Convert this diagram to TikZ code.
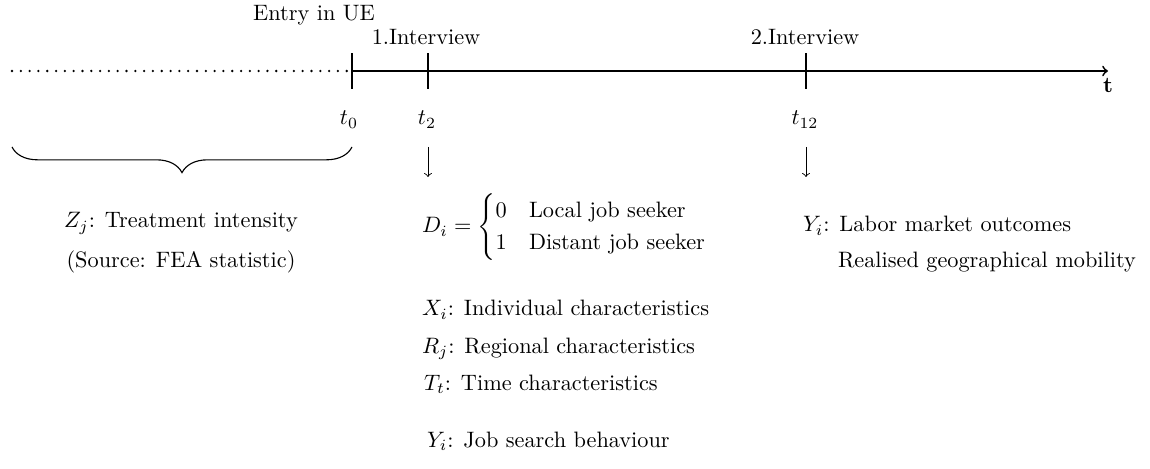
\documentclass[tikz,border=0pt]{standalone}
\usepackage{amsmath}
\usetikzlibrary{decorations.pathreplacing}
\tikzset{
  txt/.style={inner sep=0pt, outer sep=0pt},
  axis/.style={thick},
  tickmark/.style={thick},
  dotline/.style={dash pattern=on 0pt off 3.95pt, line width=1.15pt, line cap=round},
  downarr/.style={->, line width=0.4pt},
  bracedeco/.style={decorate, decoration={brace, mirror, amplitude=11.5pt}, line width=0.5pt}
}
\begin{document}
\begin{tikzpicture}[x=0.4484pt, y=-0.4484pt]
\useasboundingbox (0,0) rectangle (1150,469);
% axis coordinates
\coordinate (start) at (12,71);
\coordinate (t0) at (352,71);
\coordinate (t2) at (428,71);
\coordinate (t12) at (806,71);
\coordinate (tend) at (1108,71);
\draw[dotline] (start) -- (t0);
\draw[axis,->] (t0) -- (tend);
\node[txt, anchor=base] (tlab) at (1108,93) {\textbf{t}};
% ticks
\draw[tickmark] ([yshift=8pt]t0) -- ([yshift=-8pt]t0);
\draw[tickmark] ([yshift=8pt]t2) -- ([yshift=-8pt]t2);
\draw[tickmark] ([yshift=8pt]t12) -- ([yshift=-8pt]t12);
% top labels
\node[txt, anchor=base] (entry) at (314,21) {Entry in UE};
\node[txt, anchor=base] (int1) at (426,45) {1.Interview};
\node[txt, anchor=base] (int2) at (805,45) {2.Interview};
% time labels
\node[txt, anchor=base] (l0) at (349,125) {$t_0$};
\node[txt, anchor=base] (l2) at (427,125) {$t_2$};
\node[txt, anchor=base] (l12) at (805,125) {$t_{12}$};
% brace
\coordinate (b1) at (12,147);
\coordinate (b2) at (352,147);
\draw[bracedeco] (b1) -- (b2);
% down arrows
\coordinate (a1s) at (428,147);
\coordinate (a1e) at (428,177);
\coordinate (a2s) at (806,147);
\coordinate (a2e) at (806,177);
\draw[downarr] (a1s) -- (a1e);
\draw[downarr] (a2s) -- (a2e);
% left block
\node[txt, anchor=base] (zj) at (181,228) {$Z_j$: Treatment intensity};
\node[txt, anchor=base] (src) at (181,268) {(Source: FEA statistic)};
% middle block
\node[txt, anchor=base west] (di) at (422,233) {$D_i = \begin{cases} 0 & \text{Local job seeker}\\ 1 & \text{Distant job seeker}\end{cases}$};
\node[txt, anchor=base west] (xi) at (422,316) {$X_i$: Individual characteristics};
\node[txt, anchor=base west] (rj) at (422,353) {$R_j$: Regional characteristics};
\node[txt, anchor=base west] (tt) at (424,390) {$T_t$: Time characteristics};
\node[txt, anchor=base west] (yi) at (427,447) {$Y_i$: Job search behaviour};
% right block
\node[txt, anchor=base west] (yo) at (803,232) {$Y_i$: Labor market outcomes};
\node[txt, anchor=base west] (rg) at (838,267) {Realised geographical mobility};
\end{tikzpicture}
\end{document}
